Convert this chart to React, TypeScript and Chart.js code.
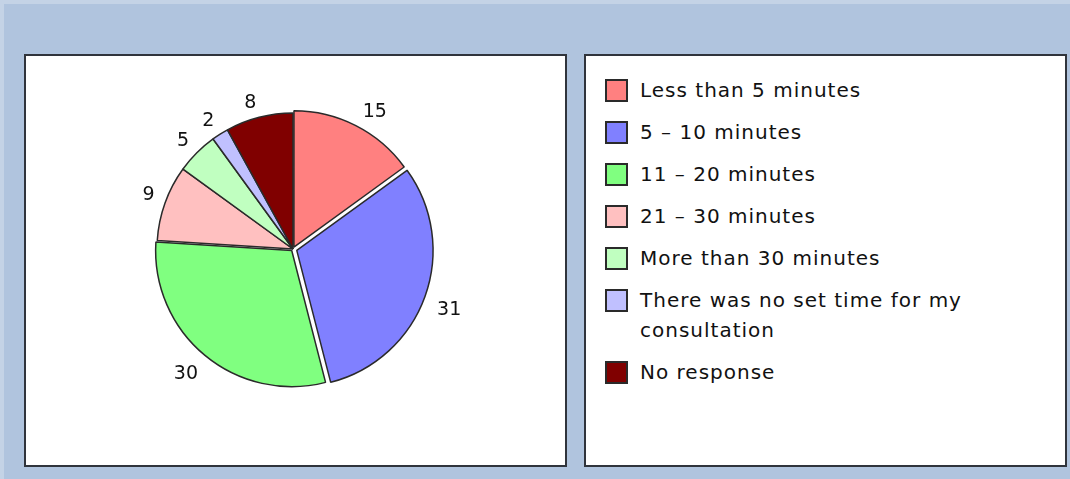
import React, { useEffect, useRef } from "react";
import { Chart, registerables } from "chart.js";

Chart.register(...registerables);

const categories: string[] = [
  "Less than 5 minutes",
  "5 – 10 minutes",
  "11 – 20 minutes",
  "21 – 30 minutes",
  "More than 30 minutes",
  "There was no set time for my consultation",
  "No response",
];
const values: number[] = [15, 31, 30, 9, 5, 2, 8];
const colors: string[] = ["#ff8080", "#8080ff", "#80ff80", "#ffc0c0", "#c0ffc0", "#c0c0ff", "#800000"];

// slice explode distance in px (Chart.js arc offset translates by offset/4)
const explodePx: number[] = [2, 4, 2, 0, 0, 0, 0];

const FONT = "'DejaVu Sans', Verdana, sans-serif";

const labelPlugin = {
  id: "outLabels",
  afterDatasetsDraw(chart: any) {
    const ctx = chart.ctx as CanvasRenderingContext2D;
    const meta = chart.getDatasetMeta(0);
    ctx.save();
    ctx.font = "19px " + FONT;
    ctx.fillStyle = "#111";
    ctx.textBaseline = "alphabetic";
    meta.data.forEach((arc: any, i: number) => {
      const p = arc.getProps(["x", "y", "startAngle", "endAngle", "outerRadius"], true);
      const mid = (p.startAngle + p.endAngle) / 2;
      const ux = Math.cos(mid);
      const uy = Math.sin(mid);
      const txt = String(values[i]);
      const asc = ctx.measureText(txt).actualBoundingBoxAscent;
      const r = p.outerRadius + 11 + explodePx[i];
      const ax = p.x + ux * r;
      const ay = p.y + uy * r;
      ctx.textAlign = ux >= 0 ? "left" : "right";
      const by = uy >= 0 ? ay + asc + 1 : ay + 1;
      ctx.fillText(txt, ax + (ux >= 0 ? 2 : 0), by);
    });
    ctx.restore();
  },
};

function PieChart() {
  const ref = useRef<HTMLCanvasElement | null>(null);
  useEffect(() => {
    if (!ref.current) return;
    const chart = new Chart(ref.current, {
      type: "pie",
      data: {
        labels: categories,
        datasets: [
          {
            data: values,
            backgroundColor: colors,
            borderColor: "#2a2a2a",
            borderWidth: 1.5,
            offset: explodePx.map((v) => v * 4),
          },
        ],
      },
      options: {
        responsive: false,
        animation: false,
        events: [],
        radius: 136,
        layout: { padding: { right: 5, bottom: 23 } },
        plugins: {
          legend: { display: false },
          tooltip: { enabled: false },
        },
      } as any,
      plugins: [labelPlugin],
    });
    return () => chart.destroy();
  }, []);
  return <canvas ref={ref} width={539} height={409} style={{ display: "block" }} />;
}

export default function App() {
  return (
    <div
      style={{
        position: "fixed",
        left: 0,
        top: 0,
        width: 1070,
        height: 479,
        background: "#b0c4de",
        overflow: "hidden",
      }}
    >
      <div style={{ position: "absolute", left: 0, top: 0, width: 1070, height: 4, background: "#c4d3e6" }} />
      <div style={{ position: "absolute", left: 0, top: 0, width: 4, height: 479, background: "#c4d3e6" }} />
      <div
        style={{
          position: "absolute",
          left: 24,
          top: 54,
          width: 543,
          height: 413,
          boxSizing: "border-box",
          border: "2px solid #30343c",
          background: "#ffffff",
        }}
      >
        <PieChart />
      </div>
      <div
        style={{
          position: "absolute",
          left: 584,
          top: 54,
          width: 483,
          height: 413,
          boxSizing: "border-box",
          border: "2px solid #30343c",
          background: "#ffffff",
        }}
      >
        <div style={{ position: "absolute", left: 19, top: 19, width: 440 }}>
          {categories.map((c, i) => (
            <div key={c} style={{ display: "flex", alignItems: "flex-start", marginBottom: 12 }}>
              <div
                style={{
                  width: 23,
                  height: 23,
                  marginTop: 4,
                  boxSizing: "border-box",
                  border: "2px solid #2a2a2a",
                  background: colors[i],
                  flex: "0 0 auto",
                }}
              />
              <div
                style={{
                  marginLeft: 12,
                  width: 400,
                  fontFamily: FONT,
                  fontSize: 20,
                  lineHeight: "30px",
                  letterSpacing: 1,
                  color: "#111",
                }}
              >
                {c}
              </div>
            </div>
          ))}
        </div>
      </div>
    </div>
  );
}
